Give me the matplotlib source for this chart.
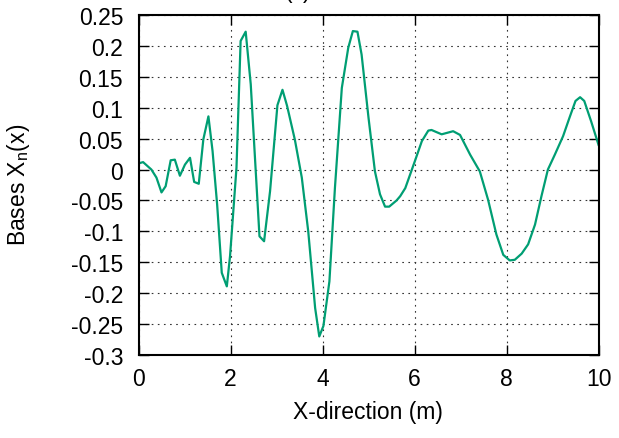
import matplotlib.pyplot as plt

plt.rcParams['font.family'] = ['Liberation Sans', 'DejaVu Sans']

# traced values of the basis function
x_pos = [0.0, 0.1, 0.28, 0.39, 0.5, 0.59, 0.70, 0.79, 0.9, 1.01, 1.12, 1.21, 1.31,
         1.41, 1.52, 1.61, 1.71, 1.81, 1.92, 1.99, 2.13, 2.22, 2.33, 2.44, 2.63, 2.73,
         2.86, 3.02, 3.13, 3.23, 3.40, 3.55, 3.69, 3.84, 3.93, 4.02, 4.15, 4.27, 4.42,
         4.56, 4.66, 4.76, 4.85, 5.0, 5.14, 5.25, 5.36, 5.45, 5.61, 5.69, 5.8, 6.01,
         6.16, 6.30, 6.37, 6.59, 6.84, 6.99, 7.21, 7.42, 7.60, 7.78, 7.93, 8.07, 8.18,
         8.33, 8.47, 8.62, 8.76, 8.90, 9.05, 9.23, 9.37, 9.50, 9.60, 9.69, 9.84, 10.0]
basis = [0.010, 0.012, 0.0, -0.013, -0.037, -0.027, 0.015, 0.016, -0.010, 0.008, 0.019,
         -0.020, -0.023, 0.049, 0.086, 0.030, -0.057, -0.167, -0.189, -0.140, 0.003,
         0.208, 0.223, 0.138, -0.108, -0.116, -0.035, 0.104, 0.129, 0.103, 0.048,
         -0.013, -0.100, -0.224, -0.270, -0.253, -0.181, -0.030, 0.132, 0.197, 0.224,
         0.223, 0.186, 0.084, -0.003, -0.040, -0.060, -0.060, -0.050, -0.043, -0.030,
         0.014, 0.046, 0.063, 0.064, 0.057, 0.062, 0.056, 0.024, -0.003, -0.049,
         -0.105, -0.138, -0.147, -0.146, -0.136, -0.121, -0.089, -0.043, 0.0, 0.024,
         0.054, 0.084, 0.111, 0.117, 0.111, 0.078, 0.040]

x_ticks = [0, 2, 4, 6, 8, 10]
y_ticks = [0.25, 0.2, 0.15, 0.1, 0.05, 0, -0.05, -0.1, -0.15, -0.2, -0.25, -0.3]
y_labels = ['0.25', '0.2', '0.15', '0.1', '0.05', '0', '-0.05', '-0.1', '-0.15',
            '-0.2', '-0.25', '-0.3']

fs = 16.5

fig = plt.figure(figsize=(6.19, 4.39), dpi=100)
ax = fig.add_axes([138.5 / 619, 83 / 439, 460 / 619, 340 / 439])

ax.plot(x_pos, basis, color='#009e73', lw=1.6)

ax.set_xlim(0, 10)
ax.set_ylim(-0.3, 0.25)
ax.set_xticks(x_ticks)
ax.set_yticks(y_ticks)
ax.set_yticklabels(y_labels)
ax.tick_params(direction='in', length=7, width=1, top=True, right=True,
               labelsize=fs, pad=9)
ax.tick_params(axis='y', pad=11)
ax.grid(True, color='0.2', lw=0.8, linestyle=(0, (1.5, 4)))
for s in ax.spines.values():
    s.set_linewidth(1.5)

fig.text(368 / 619, 1 - 413 / 439, 'X-direction (m)', ha='center', va='center', fontsize=fs)
fig.text(19 / 619, 1 - 185 / 439, r'Bases X$_\mathregular{n}$(x)', ha='center', va='center',
         rotation=90, fontsize=fs)
fig.text(298 / 619, 1 + 2 / 439, '(c)', ha='center', va='baseline', fontsize=fs)

fig.savefig('out.png', dpi=100)
